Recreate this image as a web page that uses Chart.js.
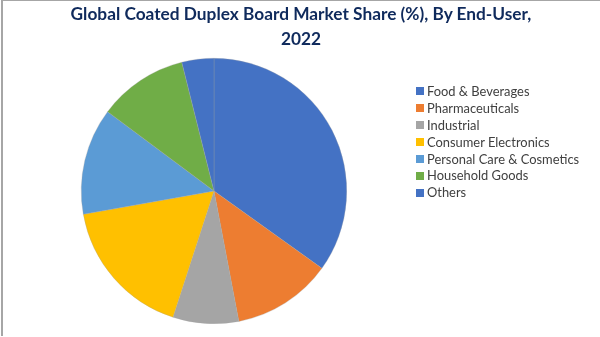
<!DOCTYPE html>
<html>
<head>
<meta charset="utf-8">
<script src="https://cdn.jsdelivr.net/npm/chart.js@4.4.0/dist/chart.umd.min.js"></script>
<style>
  html, body { margin: 0; padding: 0; background: #fff; }
  #wrap { position: relative; width: 600px; height: 337px; overflow: hidden; }
  #frame { position: absolute; left: 1px; top: 0; width: 600px; height: 336px; border-left: 2px solid #a6a6a6; border-top: 1px solid #a6a6a6; box-sizing: border-box; pointer-events: none; }
  #title { position: absolute; left: 0; top: 1px; width: 602px; text-align: center; font-family: Lato, "Open Sans", sans-serif; font-weight: bold; font-size: 17.3px; line-height: 25px; color: #0f2a5c; }
  #legend { position: absolute; left: 416px; top: 83px; font-family: Lato, "Open Sans", sans-serif; font-size: 12.9px; color: #404040; }
  .item { height: 16.9px; line-height: 16.9px; white-space: nowrap; display: flex; align-items: center; }
  .sw { width: 8px; height: 8px; margin-right: 3px; display: inline-block; }
  canvas { position: absolute; left: 0; top: 0; }
</style>
</head>
<body>
<div id="wrap">
  <canvas id="c" width="600" height="337"></canvas>
  <div id="frame"></div>
  <div id="title">Global Coated Duplex Board Market Share (%), By End-User,<br>2022</div>
  <div id="legend"></div>
</div>
<script>
const categories = ["Food & Beverages", "Pharmaceuticals", "Industrial", "Consumer Electronics", "Personal Care & Cosmetics", "Household Goods", "Others"];
const shares = [34.9, 12.1, 8.0, 17.2, 13.0, 10.9, 3.9];
const colors = ["#4472C4", "#ED7D31", "#A5A5A5", "#FFC000", "#5B9BD5", "#70AD47", "#4472C4"];

const legend = document.getElementById('legend');
categories.forEach((c, i) => {
  const d = document.createElement('div');
  d.className = 'item';
  const s = document.createElement('span');
  s.className = 'sw';
  s.style.background = colors[i];
  d.appendChild(s);
  d.appendChild(document.createTextNode(c));
  legend.appendChild(d);
});

new Chart(document.getElementById('c'), {
  type: 'pie',
  data: {
    labels: categories,
    datasets: [{
      data: shares,
      backgroundColor: colors,
      borderColor: 'rgba(160,160,160,0.6)',
      borderWidth: 0.5
    }]
  },
  options: {
    responsive: false,
    animation: false,
    layout: { padding: { left: 81, right: 253, top: 58, bottom: 13 } },
    plugins: {
      legend: { display: false },
      title: { display: false },
      tooltip: { enabled: false }
    }
  }
});
</script>
</body>
</html>
